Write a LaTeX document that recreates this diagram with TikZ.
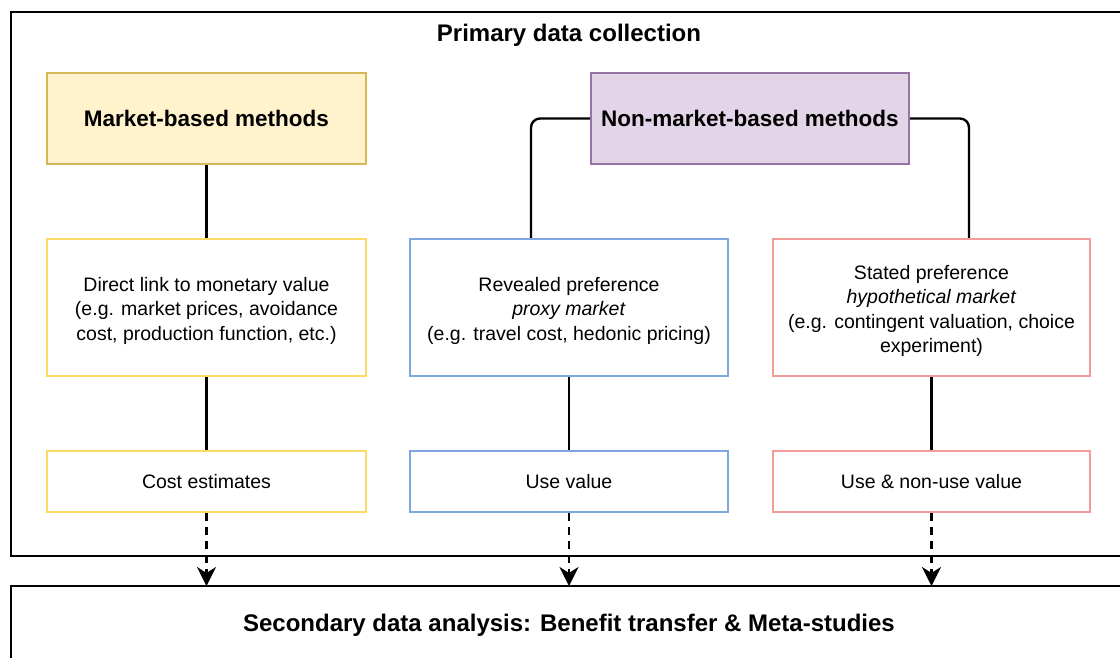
\documentclass[tikz,border=0pt]{standalone}
\usepackage{fontspec}
\setmainfont{Liberation Sans}
\usetikzlibrary{arrows.meta,calc}

\definecolor{mktfill}{HTML}{FFF2CC}
\definecolor{mktdraw}{HTML}{D6B656}
\definecolor{nmfill}{HTML}{E1D5E7}
\definecolor{nmdraw}{HTML}{9673A6}
\definecolor{ylw}{HTML}{FFD966}
\definecolor{blu}{HTML}{7EA6E0}
\definecolor{red}{HTML}{F19C99}

\tikzset{
  box/.style={draw, line width=2.4pt, rectangle, inner sep=0pt, align=center,
    font=\fontsize{19.5}{24.3}\selectfont},
  headbox/.style={box, font=\fontsize{22.5}{26}\selectfont\bfseries},
  frame/.style={draw=black, line width=2.4pt},
  link/.style={draw=black, line width=2.4pt},
  flow/.style={link, dash pattern=on 8pt off 6pt,
    -{Stealth[length=19pt,width=19pt,inset=6pt]}},
  title/.style={font=\fontsize{24}{28}\selectfont\bfseries},
}

\begin{document}
\begin{tikzpicture}[x=1pt,y=-1pt]
\useasboundingbox (0,0) rectangle (1120,657);

% outer containers
\draw[frame] (11,12) rectangle (1130,556);
\node[title] (ptitle) at (569,35.5) {Primary data collection};
\draw[frame] (11,586) coordinate (sectop) rectangle (1130,680);
\coordinate (secline) at (569,586);
\node[title] (stitle) at (569,625.5) {Secondary data analysis: Benefit transfer \& Meta-studies};

% method heads
\node[headbox, draw=mktdraw, fill=mktfill, minimum width=319pt, minimum height=91pt]
  (market) at (206.5,118.5) {Market-based methods};
\node[headbox, draw=nmdraw, fill=nmfill, minimum width=318pt, minimum height=91pt]
  (nonmkt) at (750,118.5) {Non-market-based methods};

% method descriptions (text set slightly low in the box)
\node[box, draw=ylw, minimum width=319pt, minimum height=137pt] (direct) at (206.5,307.5)
  {\rule{0pt}{21pt}Direct link to monetary value\\(e.g. market prices, avoidance\\cost, production function, etc.)};
\node[box, draw=blu, minimum width=318pt, minimum height=137pt] (revealed) at (569,307.5)
  {\rule{0pt}{21pt}Revealed preference\\\textit{proxy market}\\(e.g. travel cost, hedonic pricing)};
\node[box, draw=red, minimum width=317pt, minimum height=137pt] (stated) at (931.5,307.5)
  {\rule{0pt}{21pt}Stated preference\\\textit{hypothetical market}\\(e.g. contingent valuation, choice\\experiment)};

% resulting values
\node[box, draw=ylw, minimum width=319pt, minimum height=61pt] (cost) at (206.5,481.5) {Cost estimates};
\node[box, draw=blu, minimum width=318pt, minimum height=61pt] (use) at (569,481.5) {Use value};
\node[box, draw=red, minimum width=317pt, minimum height=61pt] (nonuse) at (931.5,481.5) {Use \& non-use value};

% connectors
\draw[link] (market.south) -- (direct.north);
\draw[link, rounded corners=9pt] (nonmkt.west) -| ([xshift=-38pt]revealed.north);
\draw[link, rounded corners=9pt] (nonmkt.east) -| ([xshift=37.5pt]stated.north);
\draw[link] (direct.south) -- (cost.north);
\draw[link] (revealed.south) -- (use.north);
\draw[link] (stated.south) -- (nonuse.north);

% flows into the secondary analysis
\draw[flow] (cost.south) -- (cost.south |- secline);
\draw[flow] (use.south) -- (use.south |- secline);
\draw[flow] (nonuse.south) -- (nonuse.south |- secline);
\end{tikzpicture}
\end{document}
